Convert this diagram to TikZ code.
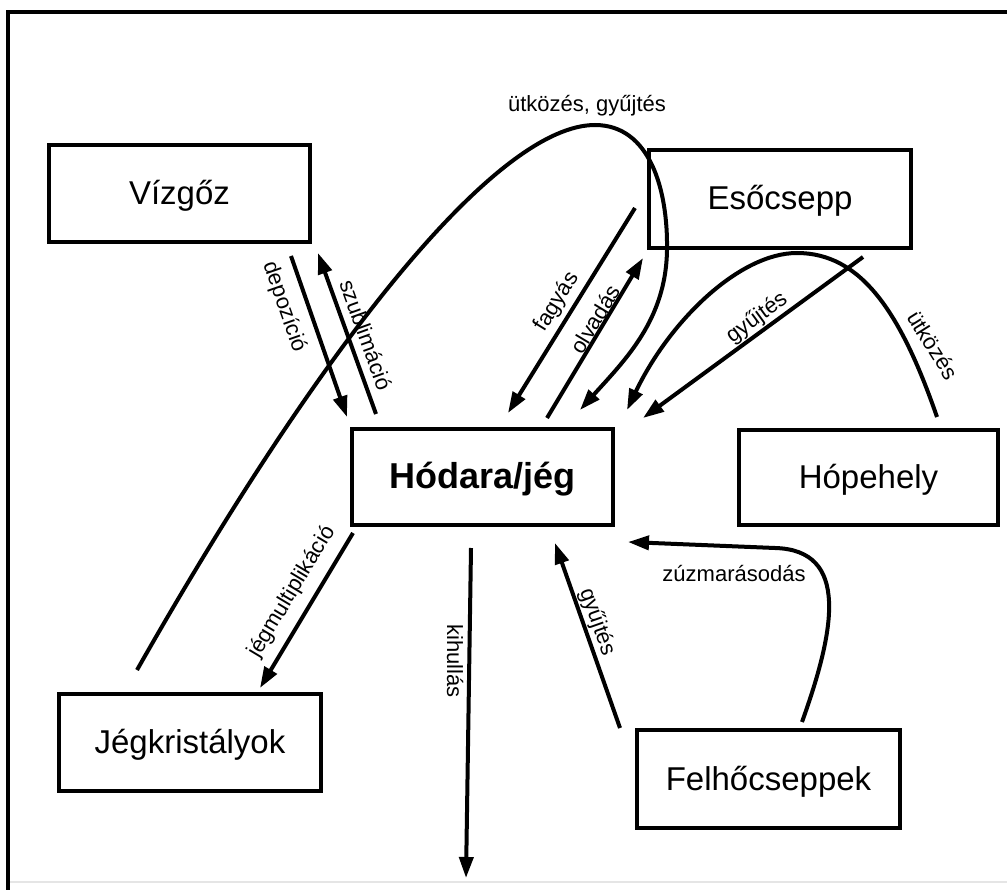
\documentclass[tikz,border=0pt]{standalone}
\usepackage{fontspec}
\setmainfont{Liberation Sans}
\usetikzlibrary{arrows.meta}
\begin{document}
\begin{tikzpicture}[x=1pt,y=-1pt,
  box/.style={draw, line width=4.5pt, inner sep=0pt, text height=22pt, text depth=0pt, font=\fontsize{33}{40}\selectfont},
  lbl/.style={inner sep=0pt, font=\fontsize{22}{26}\selectfont},
  arr/.style={line width=4pt, -{Triangle[length=21pt,width=14pt]}},
  ln/.style={line width=4pt}]
\useasboundingbox (0,0) rectangle (1007,890);
\fill[white] (0,0) rectangle (1007,890);
% frame
\draw[line width=4pt] (8,900) -- (8,12) -- (1015,12);
\draw[black!10, line width=1.5pt] (10,882) -- (1007,882);
% boxes
\node[box, minimum width=261pt, minimum height=97pt] (viz) at (179.5,193.5) {Vízgőz};
\node[box, minimum width=262pt, minimum height=98pt] (eso) at (780,199) {Esőcsepp};
\node[box, minimum width=261pt, minimum height=96pt, text height=24pt, font=\fontsize{36}{42}\selectfont\bfseries] (hod) at (482.5,477) {Hódara/jég};
\node[box, minimum width=259pt, minimum height=95pt] (hop) at (868.5,477.5) {Hópehely};
\node[box, minimum width=262pt, minimum height=97pt] (jeg) at (190,742.5) {Jégkristályok};
\node[box, minimum width=263pt, minimum height=98pt] (fel) at (768.5,779) {Felhőcseppek};
% connector end points
\coordinate (dep1) at (291,256);  \coordinate (dep2) at (347,417);
\coordinate (szu1) at (376,414);  \coordinate (szu2) at (318,253);
\coordinate (fag1) at (635,208);  \coordinate (fag2) at (508,413);
\coordinate (olv1) at (547,418);  \coordinate (olv2) at (643,258);
\coordinate (utg1) at (137,670);  \coordinate (utg2) at (595,125);
\coordinate (utg3) at (667,250);  \coordinate (utg4) at (580,410);
\coordinate (utk1) at (937,417);  \coordinate (utk2) at (797,253);
\coordinate (utk3) at (627,410);
\coordinate (gyu1) at (863,257);  \coordinate (gyu2) at (643,418);
\coordinate (jgm1) at (353,533);  \coordinate (jgm2) at (260,688);
\coordinate (kih1) at (471,548);  \coordinate (kih2) at (466,878);
\coordinate (gyl1) at (620,728);  \coordinate (gyl2) at (555,543);
\coordinate (zuz1) at (802,722);  \coordinate (zuz2) at (775,548);
\coordinate (zuz3) at (628,542);
% connectors
\draw[arr] (dep1) -- (dep2);
\draw[arr] (szu1) -- (szu2);
\draw[arr] (fag1) -- (fag2);
\draw[arr] (olv1) -- (olv2);
\draw[arr] (utg1) .. controls (330,330) and (500,125) .. (utg2)
                 .. controls (650,125) and (668,190) .. (utg3)
                 .. controls (666,320) and (625,360) .. (utg4);
\draw[arr] (utk1) .. controls (900,310) and (860,253) .. (utk2)
                 .. controls (740,253) and (670,320) .. (utk3);
\draw[arr] (gyu1) -- (gyu2);
\draw[arr] (jgm1) -- (jgm2);
\draw[arr] (kih1) -- (kih2);
\draw[arr] (gyl1) -- (gyl2);
\draw[arr] (zuz1) .. controls (835,630) and (850,550) .. (zuz2) -- (zuz3);
% labels
\node[lbl, rotate=-70.8] (ldep) at (284,307) {depozíció};
\node[lbl, rotate=-70.2] (lszu) at (366,335) {szublimáció};
\node[lbl, rotate=58.2] (lfag) at (557,302) {fagyás};
\node[lbl, rotate=59] (lolv) at (595,319) {olvadás};
\node[lbl, anchor=base] (lutg) at (587,112) {ütközés, gyűjtés};
\node[lbl, rotate=-58] (lutk) at (933,345) {ütközés};
\node[lbl, rotate=36.2] (lgyu) at (757,318) {gyűjtés};
\node[lbl, rotate=59] (ljgm) at (292,592) {jégmultiplikáció};
\node[lbl, rotate=-90] (lkih) at (455,661) {kihullás};
\node[lbl, rotate=-70.6] (lgyl) at (597,622) {gyűjtés};
\node[lbl, anchor=base] (lzuz) at (734,581) {zúzmarásodás};
\end{tikzpicture}
\end{document}
